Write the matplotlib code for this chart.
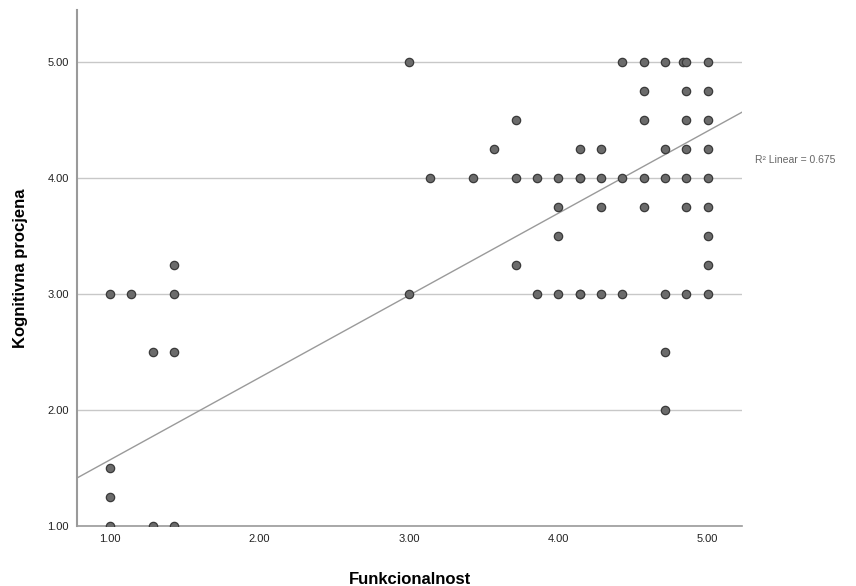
import matplotlib.pyplot as plt
import numpy as np

plt.rcParams['font.family'] = ['Liberation Sans', 'DejaVu Sans']

# Funkcionalnost (x) and Kognitivna procjena (y)
funkc = [1.0, 1.143, 1.429, 1.429, 1.286, 1.429, 1.0, 1.0, 1.0, 1.286, 1.429,
         3.0, 3.0, 3.143, 3.429, 3.571, 3.714, 3.714, 3.714, 3.857, 3.857,
         4.0, 4.0, 4.0, 4.0, 4.143, 4.143,
         4.429, 4.571, 4.714, 4.833, 4.857, 5.0,
         4.571, 4.857, 5.0,
         4.571, 4.857, 5.0,
         4.143, 4.286, 4.714, 4.857, 5.0,
         4.143, 4.286, 4.429, 4.571, 4.714, 4.857, 5.0,
         4.286, 4.571, 4.857, 5.0,
         5.0, 5.0,
         4.143, 4.286, 4.429, 4.714, 4.857, 5.0,
         4.714, 4.714]
kogn = [3.0, 3.0, 3.25, 3.0, 2.5, 2.5, 1.5, 1.25, 1.0, 1.0, 1.0,
        5.0, 3.0, 4.0, 4.0, 4.25, 4.5, 4.0, 3.25, 4.0, 3.0,
        4.0, 3.75, 3.5, 3.0, 4.0, 3.0,
        5.0, 5.0, 5.0, 5.0, 5.0, 5.0,
        4.75, 4.75, 4.75,
        4.5, 4.5, 4.5,
        4.25, 4.25, 4.25, 4.25, 4.25,
        4.0, 4.0, 4.0, 4.0, 4.0, 4.0, 4.0,
        3.75, 3.75, 3.75, 3.75,
        3.5, 3.25,
        3.0, 3.0, 3.0, 3.0, 3.0, 3.0,
        2.5, 2.0]

# fit line as shown (R2 Linear = 0.675)
fit_intercept = 0.861
fit_slope = 0.709
r2 = 0.675

xticks = [1, 2, 3, 4, 5]
yticks = [1, 2, 3, 4, 5]

fig = plt.figure(figsize=(8.56, 5.86), dpi=100)
ax = fig.add_axes([0.090, 0.1024, 0.777, 0.8806])

xmin, xmax = 0.78, 5.23
ax.set_xlim(xmin, xmax)
ax.set_ylim(1.0, 5.45)

for yv in yticks:
    ax.axhline(yv, color='#c8c8c8', lw=1, zorder=1)

xl = np.array([xmin, xmax])
ax.plot(xl, fit_intercept + fit_slope*xl, color='#9a9a9a', lw=1, zorder=2)

ax.scatter(funkc, kogn, s=36, facecolor='#6b6b6b', edgecolor='#3a3a3a',
           linewidth=0.9, zorder=3)

ax.set_xticks(xticks)
ax.set_xticklabels(['%.2f' % v for v in xticks])
ax.set_yticks(yticks)
ax.set_yticklabels(['%.2f' % v for v in yticks])
ax.tick_params(length=0, labelsize=8, colors='#222222', pad=6)

for s in ['top', 'right']:
    ax.spines[s].set_visible(False)
ax.spines['left'].set_color('#9a9a9a')
ax.spines['left'].set_linewidth(1.5)
ax.spines['bottom'].set_color('#9a9a9a')
ax.spines['bottom'].set_linewidth(1.2)

ax.set_xlabel('Funkcionalnost', fontsize=12, fontweight='bold', labelpad=20)
ax.set_ylabel('Kognitivna procjena', fontsize=12, fontweight='bold', labelpad=14)

fig.text(755/856, 1 - 160/586, 'R² Linear = 0.675', fontsize=7.5,
         color='#666666', va='center', ha='left')

fig.savefig('out.png', dpi=100)
